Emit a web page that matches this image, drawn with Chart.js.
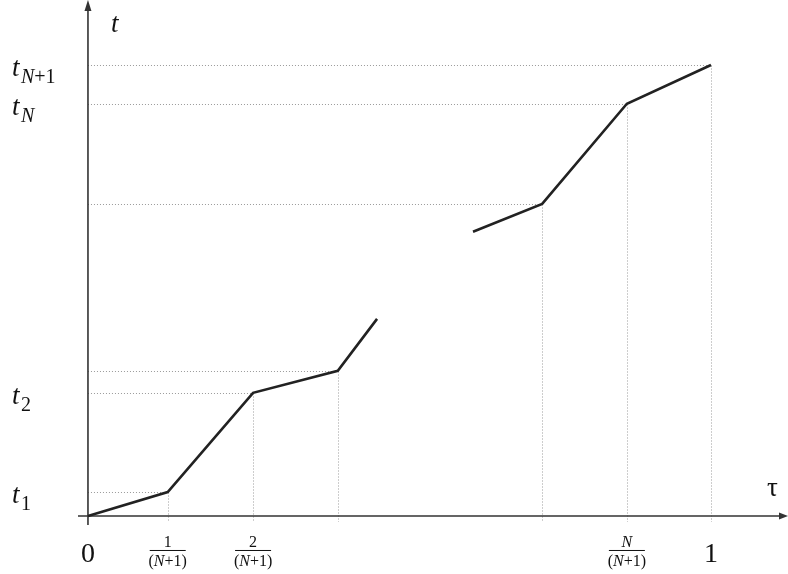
<!DOCTYPE html>
<html>
<head>
<meta charset="utf-8">
<script src="https://cdn.jsdelivr.net/npm/chart.js@4/dist/chart.umd.min.js"></script>
<style>
  html, body { margin: 0; padding: 0; background: #fff; }
  #wrap { width: 788px; height: 574px; }
</style>
</head>
<body>
<div id="wrap"><canvas id="c" width="788" height="574"></canvas></div>
<script>
// Piecewise-linear map tau -> t, shown in two visible pieces
const tauLow  = [0, 0.128, 0.265, 0.401, 0.464];
const tLow    = [0, 0.053, 0.273, 0.322, 0.437];
const tauHigh = [0.618, 0.729, 0.865, 1.0];
const tHigh   = [0.630, 0.692, 0.914, 1.0];

// Knots that get dotted guide lines to both axes
const guideTau = [0.128, 0.265, 0.401, 0.729, 0.865, 1.0];
const guideT   = [0.053, 0.273, 0.322, 0.692, 0.914, 1.0];

// Tick labels
const xTickPos  = [0, 0.128, 0.265, 0.865, 1.0];
const xTickNum  = ['0', '1', '2', 'N', '1'];
const xTickFrac = [false, true, true, true, false];
const yTickPos  = [0.053, 0.273, 0.914, 1.0];
const yTickSub  = ['1', '2', 'N', 'N+1'];

const SERIF = '"Liberation Serif", "DejaVu Serif", serif';

const diagram = {
  id: 'diagram',
  beforeDatasetsDraw(chart) {
    const ctx = chart.ctx;
    const xs = chart.scales.x, ys = chart.scales.y;
    const x0 = xs.getPixelForValue(0), y0 = ys.getPixelForValue(0);

    // dotted guides
    ctx.save();
    ctx.strokeStyle = '#9a9a9a';
    ctx.lineWidth = 1;
    ctx.setLineDash([1, 2]);
    for (let i = 0; i < guideTau.length; i++) {
      const px = Math.round(xs.getPixelForValue(guideTau[i])) + 0.5;
      const py = Math.round(ys.getPixelForValue(guideT[i])) + 0.5;
      ctx.beginPath();
      ctx.moveTo(x0, py); ctx.lineTo(px, py);
      ctx.moveTo(px, py); ctx.lineTo(px, y0 + 6);
      ctx.stroke();
    }
    ctx.restore();

    // axes with arrowheads
    ctx.save();
    ctx.strokeStyle = '#333';
    ctx.fillStyle = '#333';
    ctx.lineWidth = 1.6;
    const left = chart.chartArea.left, right = chart.chartArea.right;
    const top = chart.chartArea.top, bottom = chart.chartArea.bottom;
    ctx.beginPath();
    ctx.moveTo(left, y0); ctx.lineTo(right - 6, y0);
    ctx.moveTo(x0, bottom); ctx.lineTo(x0, top + 8);
    ctx.stroke();
    ctx.beginPath();
    ctx.moveTo(right, y0); ctx.lineTo(right - 9, y0 - 3.5); ctx.lineTo(right - 9, y0 + 3.5);
    ctx.closePath(); ctx.fill();
    ctx.beginPath();
    ctx.moveTo(x0, top); ctx.lineTo(x0 - 3.5, top + 11); ctx.lineTo(x0 + 3.5, top + 11);
    ctx.closePath(); ctx.fill();
    ctx.restore();
  },
  afterDraw(chart) {
    const ctx = chart.ctx;
    const xs = chart.scales.x, ys = chart.scales.y;
    const y0 = ys.getPixelForValue(0);
    ctx.save();
    ctx.fillStyle = '#111';
    ctx.textAlign = 'center';
    ctx.textBaseline = 'alphabetic';

    // x tick labels
    for (let i = 0; i < xTickPos.length; i++) {
      const px = xs.getPixelForValue(xTickPos[i]);
      if (xTickFrac[i]) {
        const nIt = xTickNum[i] === 'N';
        ctx.font = (nIt ? 'italic ' : '') + '16px ' + SERIF;
        ctx.fillText(xTickNum[i], px, y0 + 31);
        ctx.fillRect(px - 18, y0 + 34, 36, 1);
        ctx.font = '16px ' + SERIF;
        const dy = y0 + 50;
        // "(N+1)" with italic N
        const p1 = '(', p2 = 'N', p3 = '+1)';
        const w1 = ctx.measureText(p1).width;
        ctx.font = 'italic 16px ' + SERIF;
        const w2 = ctx.measureText(p2).width;
        ctx.font = '16px ' + SERIF;
        const w3 = ctx.measureText(p3).width;
        let sx = px - (w1 + w2 + w3) / 2;
        ctx.textAlign = 'left';
        ctx.fillText(p1, sx, dy); sx += w1;
        ctx.font = 'italic 16px ' + SERIF;
        ctx.fillText(p2, sx, dy); sx += w2;
        ctx.font = '16px ' + SERIF;
        ctx.fillText(p3, sx, dy);
        ctx.textAlign = 'center';
      } else {
        ctx.font = '28px ' + SERIF;
        ctx.fillText(xTickNum[i], px, y0 + 46);
      }
    }

    // y tick labels: t with subscript
    ctx.textAlign = 'left';
    for (let i = 0; i < yTickPos.length; i++) {
      const py = ys.getPixelForValue(yTickPos[i]);
      ctx.font = 'italic 27px ' + SERIF;
      ctx.fillText('t', 12, py + 11);
      const sub = yTickSub[i];
      let sx = 21;
      const by = py + 18;
      for (const ch of sub) {
        const it = ch === 'N';
        ctx.font = (it ? 'italic ' : '') + '20px ' + SERIF;
        ctx.fillText(ch, sx, by);
        sx += ctx.measureText(ch).width;
      }
    }

    // axis titles
    ctx.font = 'italic 27px ' + SERIF;
    ctx.fillText('t', 111, 32);
    ctx.font = '27px ' + SERIF;
    ctx.fillText('\u03C4', 767, 496);
    ctx.restore();
  }
};

const lineStyle = {
  borderColor: '#222',
  borderWidth: 2.6,
  pointRadius: 0,
  fill: false,
  tension: 0
};

new Chart(document.getElementById('c'), {
  type: 'line',
  data: {
    datasets: [
      Object.assign({ data: tauLow.map((x, i) => ({ x, y: tLow[i] })) }, lineStyle),
      Object.assign({ data: tauHigh.map((x, i) => ({ x, y: tHigh[i] })) }, lineStyle)
    ]
  },
  options: {
    responsive: false,
    animation: false,
    events: [],
    layout: { padding: { left: 78, right: 0, top: 0, bottom: 49 } },
    plugins: { legend: { display: false }, tooltip: { enabled: false } },
    scales: {
      x: { type: 'linear', min: -0.016, max: 1.1236, display: false },
      y: { type: 'linear', min: -0.02, max: 1.144, display: false }
    }
  },
  plugins: [diagram]
});
</script>
</body>
</html>
